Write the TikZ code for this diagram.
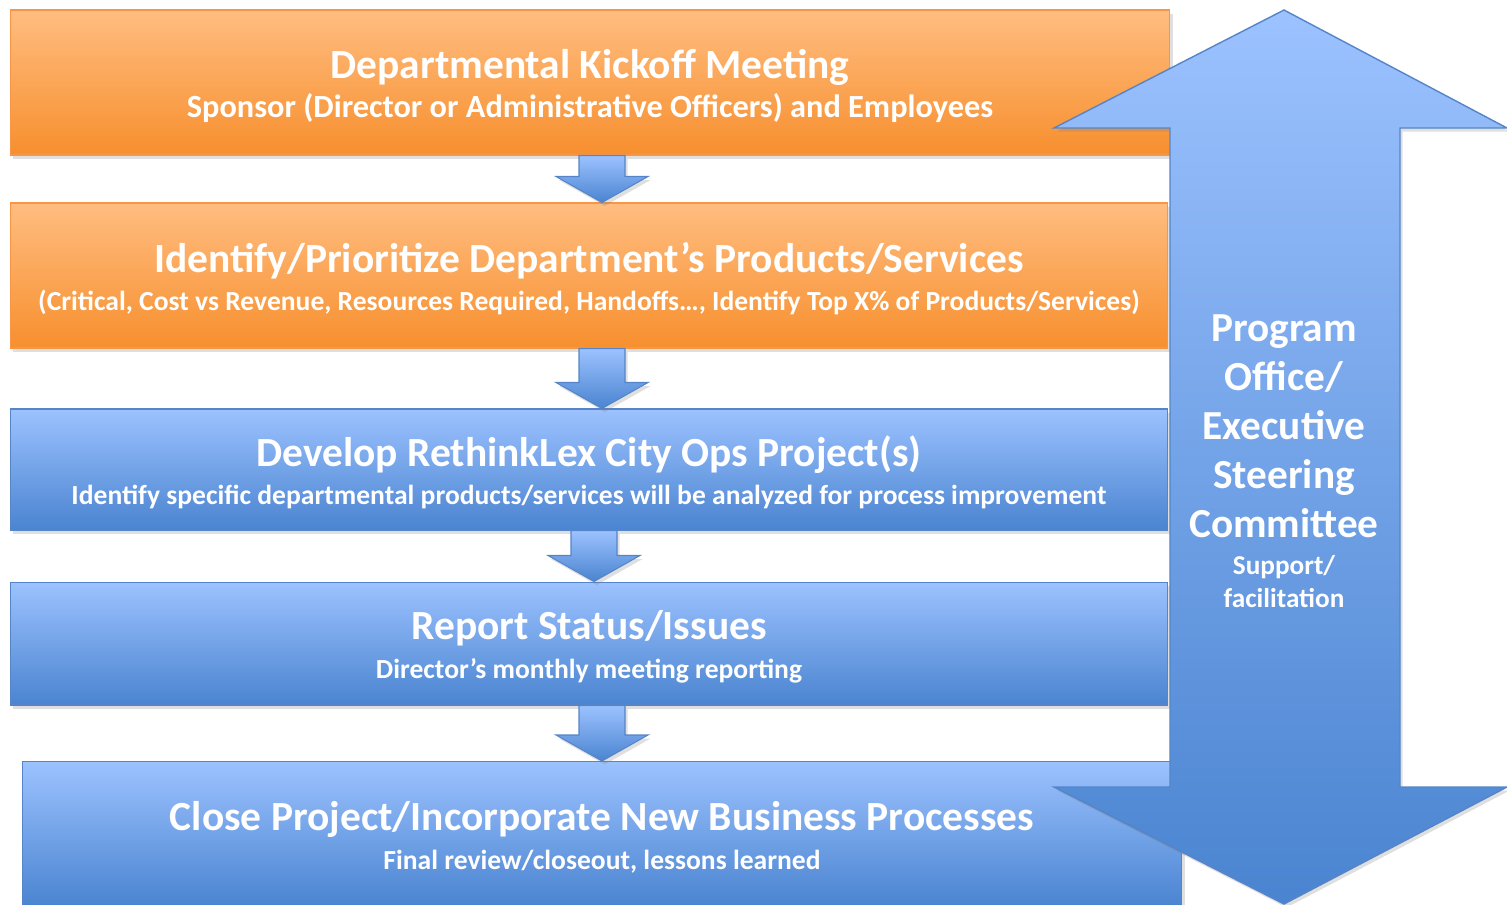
\documentclass[tikz,border=0pt]{standalone}
\usepackage{fontspec}
\setmainfont{Carlito}
\usetikzlibrary{calc}
\usetikzlibrary{shadows}

\definecolor{orangetop}{HTML}{FFBD80}
\definecolor{orangemid}{HTML}{FDAC62}
\definecolor{orangebot}{HTML}{F78F2E}
\definecolor{orangeedge}{HTML}{F79646}
\definecolor{bluetop}{HTML}{9CC2FF}
\definecolor{bluemid}{HTML}{8CB4F4}
\definecolor{bluebot}{HTML}{4A84D0}
\definecolor{blueedge}{HTML}{5585C8}

\newcommand\boxsub{\fontsize{15.7}{22}\selectfont}
\newcommand\smallline{\fontsize{15.5}{18}\selectfont}
% block arrow from the bottom of one box to the top of the next
\newcommand\flowarrow[3]{%
  \coordinate (tip) at (#1,0 |- #3.north);
  \coordinate (neck) at ($(tip)+(0,-26)$);
  \path[flowarr] (#1-23,0 |- #2.south) -- (#1+23,0 |- #2.south) -- (#1+23,0 |- neck)
    -- (#1+46,0 |- neck) -- (tip) -- (#1-46,0 |- neck) -- (#1-23,0 |- neck) -- cycle;
}

\begin{document}
\begin{tikzpicture}[x=.02cm, y=-.02cm,
softshadow/.style={drop shadow={shadow xshift=1.5pt, shadow yshift=-2pt, opacity=.25}},
stepbox/.style={minimum width=23.16cm, inner sep=0, align=center, text=white, font=\bfseries\fontsize{23.6}{22}\selectfont,
  text height=42.5pt, line width=.6pt, softshadow},
orangebox/.style={stepbox, draw=orangeedge, top color=orangetop, middle color=orangemid, bottom color=orangebot},
bluebox/.style={stepbox, draw=blueedge, top color=bluetop, middle color=bluemid, bottom color=bluebot},
flowarr/.style={draw=blueedge, line width=.6pt, top color=bluetop, bottom color=bluebot, softshadow},
bigarrow/.style={draw=blueedge, line width=.8pt, top color=bluetop, bottom color=bluebot, softshadow},
steer/.style={align=center, text=white, font=\bfseries\fontsize{23.5}{28}\selectfont, inner sep=0}]
\useasboundingbox (0,0) rectangle (1507,904);
\clip (0,0) rectangle (1507,904);

\node[orangebox, minimum width=23.2cm, minimum height=2.9cm] (kickoff) at (590,82.5)
  {Departmental Kickoff Meeting\\ \fontsize{18.4}{22}\selectfont Sponsor (Director or Administrative Officers) and Employees};
\node[orangebox, minimum height=2.9cm] (prioritize) at (589,275.5)
  {Identify/Prioritize Department’s Products/Services\\
   \boxsub (Critical, Cost vs Revenue, Resources Required, Handoffs…, Identify Top X\% of Products/Services)};
\node[bluebox, minimum height=2.42cm] (develop) at (589,469.5)
  {Develop RethinkLex City Ops Project(s)\\ \boxsub Identify specific departmental products/services will be analyzed for process improvement};
\node[bluebox, minimum height=2.46cm] (report) at (589,643.5)
  {Report Status/Issues\\ \boxsub Director’s monthly meeting reporting};
\node[bluebox, minimum width=23.2cm, minimum height=2.9cm] (close) at (602,834)
  {Close Project/Incorporate New Business Processes\\ \boxsub Final review/closeout, lessons learned};

\flowarrow{602}{kickoff}{prioritize}
\flowarrow{602}{prioritize}{develop}
\flowarrow{594}{develop}{report}
\flowarrow{602}{report}{close}

% two-headed arrow on the right
\path[bigarrow] (1284,10) -- (1507,128) -- (1400,128) -- (1400,787) -- (1507,787) -- (1284,904)
  -- (1054,787) -- (1170,787) -- (1170,128) -- (1054,128) -- cycle;
\node[steer] (office) at (1284,461)
  {Program\\Office/\\Executive\\Steering\\Committee\\[-7.5pt]
   \smallline Support/\\[-9pt] \smallline facilitation};
\end{tikzpicture}
\end{document}
